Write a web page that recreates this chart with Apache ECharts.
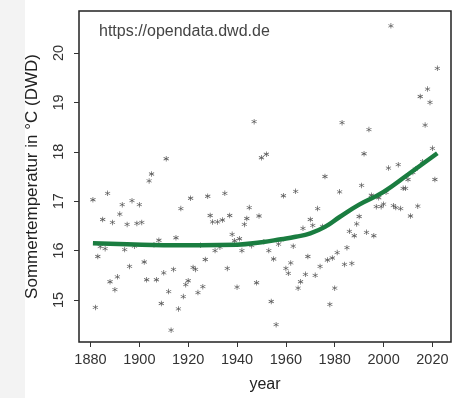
<!DOCTYPE html>
<html>
<head>
<meta charset="utf-8">
<script src="https://cdn.jsdelivr.net/npm/echarts@6/dist/echarts.min.js"></script>
<style>
  html, body { margin: 0; padding: 0; background: #fff; }
  #main { width: 452px; height: 398px; }
</style>
</head>
<body>
<div id="main"></div>
<script>
// summer temperature per year
var firstYear = 1881;
var temps = [
    17.03, 14.85, 15.88, 16.08, 16.63, 16.04, 17.16, 15.37, 16.57, 15.21,
    15.47, 16.74, 16.93, 16.02, 16.53, 15.68, 17.01, 16.09, 16.55, 16.93,
    16.57, 15.77, 15.41, 17.41, 17.55, 16.12, 15.41, 16.21, 14.93, 15.55,
    17.86, 15.17, 14.39, 15.62, 16.26, 14.82, 16.85, 15.07, 15.31, 15.39,
    17.06, 15.66, 15.62, 15.15, 16.11, 15.27, 15.82, 17.10, 16.71, 16.58,
    16.00, 16.58, 16.07, 16.62, 17.16, 15.64, 16.71, 16.33, 16.20, 15.26,
    16.24, 16.00, 16.53, 16.65, 16.87, 16.10, 18.61, 15.35, 16.70, 17.88,
    16.18, 17.95, 16.00, 14.97, 15.83, 14.50, 16.13, 16.22, 17.11, 15.64,
    15.54, 15.75, 16.09, 17.20, 15.24, 15.37, 16.45, 15.52, 15.88, 16.63,
    16.51, 15.50, 16.85, 15.68, 16.49, 17.50, 15.81, 14.91, 15.85, 15.24,
    15.96, 17.19, 18.59, 15.72, 16.06, 16.39, 15.74, 16.30, 16.54, 16.69,
    17.32, 17.96, 16.37, 18.45, 17.12, 16.30, 16.89, 17.07, 16.89, 16.94,
    17.18, 17.67, 20.55, 16.91, 16.87, 17.74, 16.85, 17.26, 17.26, 17.44,
    16.70, 17.58, 17.65, 16.90, 19.12, 17.80, 18.54, 19.27, 19.00, 18.07,
    17.44, 19.69
];

// smoothed trend
var trendYears = [1881, 1895, 1910, 1925, 1940, 1950, 1958, 1964, 1970, 1976, 1982, 1990, 2000, 2010, 2022];
var trendTemps = [16.15, 16.13, 16.11, 16.11, 16.12, 16.17, 16.23, 16.28, 16.35, 16.48, 16.68, 16.93, 17.19, 17.54, 17.97];

var xTicks = [1880, 1900, 1920, 1940, 1960, 1980, 2000, 2020];
var yTicks = [15, 16, 17, 18, 19, 20];

var points = temps.map(function (t, i) { return [firstYear + i, t]; });
var trend = trendYears.map(function (y, i) { return [y, trendTemps[i]]; });

// asterisk like R's "*"
var star = 'path://M4.4,0L5.6,0L5.6,10L4.4,10Z' +
    'M0.97,1.98L9.63,6.98L9.03,8.02L0.37,3.02Z' +
    'M9.03,1.98L9.63,3.02L0.97,8.02L0.37,6.98Z';

var font = 'Liberation Sans, Arial, sans-serif';

var myChart = echarts.init(document.getElementById('main'));
myChart.setOption({
    backgroundColor: '#fff',
    animation: false,
    graphic: [{
        type: 'rect',
        left: 0, top: 0, z: -10,
        shape: { width: 25, height: 398 },
        style: { fill: '#f3f3f3' }
    }, {
        type: 'text',
        left: 99, top: 24,
        style: {
            text: 'https://opendata.dwd.de',
            font: '16px ' + font,
            fill: '#444'
        }
    }],
    grid: {
        left: 79, top: 11, right: 1, bottom: 53,
        show: true,
        borderColor: '#222',
        borderWidth: 1.5
    },
    xAxis: {
        type: 'value',
        min: 1875.3,
        max: 2027.6,
        name: 'year',
        nameLocation: 'middle',
        nameGap: 35,
        nameTextStyle: { fontFamily: font, fontSize: 16, color: '#222' },
        axisLine: { show: false },
        splitLine: { show: false },
        axisTick: {
            show: true, length: 5, inside: false,
            customValues: xTicks,
            lineStyle: { color: '#333', width: 1 }
        },
        axisLabel: {
            customValues: xTicks,
            margin: 10,
            fontFamily: font, fontSize: 14.5, color: '#333',
            hideOverlap: false,
            formatter: function (v) { return String(v); }
        }
    },
    yAxis: {
        type: 'value',
        min: 14.15,
        max: 20.85,
        name: 'Sommertemperatur in °C (DWD)',
        nameLocation: 'middle',
        nameGap: 38,
        nameRotate: 90,
        nameTextStyle: { fontFamily: font, fontSize: 17, color: '#222' },
        axisLine: { show: false },
        splitLine: { show: false },
        axisTick: {
            show: true, length: 5, inside: false,
            customValues: yTicks,
            lineStyle: { color: '#333', width: 1 }
        },
        axisLabel: {
            customValues: yTicks,
            rotate: 90,
            margin: 13,
            fontFamily: font, fontSize: 14.5, color: '#333',
            hideOverlap: false
        }
    },
    series: [{
        name: 'temp',
        type: 'scatter',
        symbol: star,
        symbolSize: 5.5,
        itemStyle: { color: '#333' },
        data: points
    }, {
        name: 'trend',
        type: 'line',
        smooth: 0.5,
        showSymbol: false,
        lineStyle: { color: '#1a7d40', width: 4.5 },
        data: trend
    }]
});
</script>
</body>
</html>
